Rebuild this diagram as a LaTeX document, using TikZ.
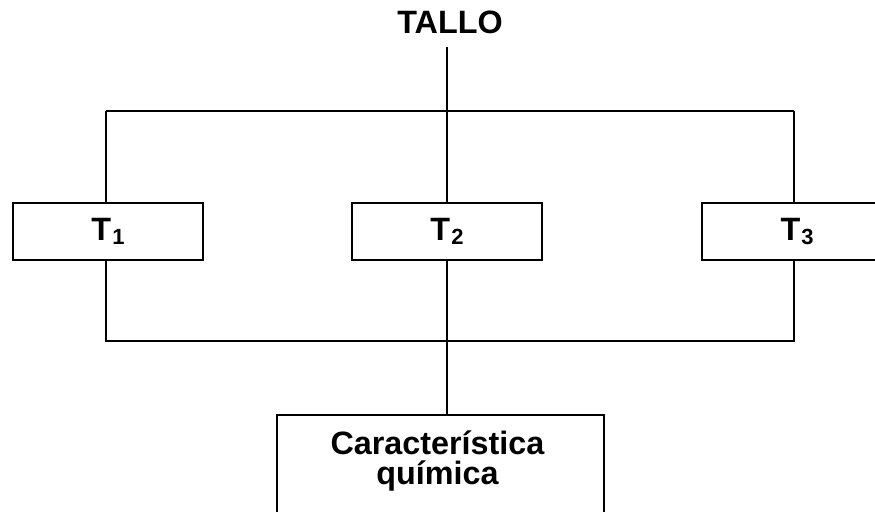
\documentclass[tikz,border=0pt]{standalone}
\usepackage{fontspec}
\setmainfont{Liberation Sans}
\newcommand{\Tsub}[1]{T\kern0.6pt\raisebox{-2pt}{\fontsize{12.5}{12.5}\selectfont #1}}
\tikzset{
	wire/.style={line width=1.1pt},
	title/.style={inner sep=0pt,font=\bfseries\fontsize{18.4}{17}\selectfont},
	tbox/.style={rectangle,draw=black,line width=1.1pt,minimum width=3.8cm,minimum height=1.14cm,inner sep=0pt,font=\bfseries\fontsize{18.4}{17}\selectfont},
	cbox/.style={rectangle,draw=black,line width=1.1pt,minimum width=6.54cm,minimum height=3cm,inner sep=0pt,anchor=north},
	ctext/.style={inner sep=0pt,align=center,anchor=north,font=\bfseries\fontsize{18.4}{17}\selectfont}}

\begin{document}
\begin{tikzpicture}[x=0.02cm,y=-0.02cm]
	\useasboundingbox (0,0) rectangle (875,511);
	\clip (0,0) rectangle (875,511);
	\node (tallo) at (450,22) [title] {TALLO};
	\coordinate (top) at (447,47);
	\node (T1) at (108,231.5) [tbox] {\Tsub{1}};
	\node (T2) at (447,231.5) [tbox] {\Tsub{2}};
	\node (T3) at (797,231.5) [tbox] {\Tsub{3}};
	\node (quim) at (440.5,414) [cbox,label={[ctext,xshift=-1.7pt,yshift=-9.5pt]north:Característica\\química}] {};
	\coordinate (a1) at (106,111);
	\coordinate (a3) at (794,111);
	\coordinate (b1) at (106,341);
	\coordinate (b3) at (794,341);
	\draw[wire] (top) -- (T2);
	\draw[wire] (a1) -- (a3);
	\draw[wire] (a1) -- (a1 |- T1.north);
	\draw[wire] (a3) -- (a3 |- T3.north);
	\draw[wire] (T1.south -| b1) -- (b1) -- (b3) -- (T3.south -| b3);
	\draw[wire] (T2.south) -- (T2.south |- quim.north);
\end{tikzpicture}
\end{document}
